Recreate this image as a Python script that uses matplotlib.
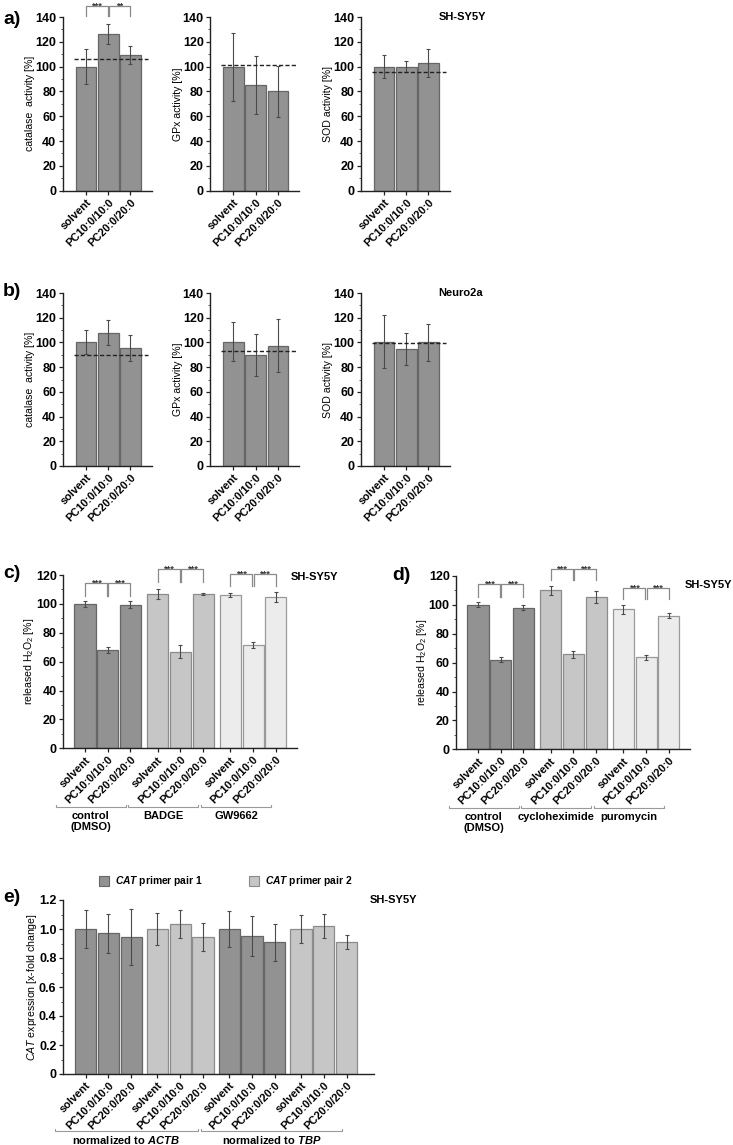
import numpy as np
import matplotlib
matplotlib.use("Agg")
import matplotlib.pyplot as plt
from matplotlib.patches import Rectangle

plt.rcParams["font.family"] = "Liberation Sans"
plt.rcParams["mathtext.fontset"] = "custom"
plt.rcParams["mathtext.rm"] = "Liberation Sans"
plt.rcParams["mathtext.it"] = "Liberation Sans:italic"
plt.rcParams["mathtext.bf"] = "Liberation Sans:italic:bold"

treatments = ["solvent", "PC10:0/10:0", "PC20:0/20:0"]

# a) SH-SY5Y enzyme activities [%] (mean, sd, dashed reference)
cat_a = [100, 126, 109.5]
cat_a_sd = [14, 8, 7]
cat_a_ref = 106
gpx_a = [100, 85, 80]
gpx_a_sd = [27.5, 23.5, 20.5]
gpx_a_ref = 101
sod_a = [100, 100, 103]
sod_a_sd = [9.5, 4.5, 11.5]
sod_a_ref = 96
sig_a = [(0, 1, "***"), (1, 2, "**")]

# b) Neuro2a
cat_b = [100.5, 108, 95.5]
cat_b_sd = [9.5, 10, 10.2]
cat_b_ref = 90
gpx_b = [100.5, 90, 97.5]
gpx_b_sd = [15.7, 17, 21.3]
gpx_b_ref = 93
sod_b = [100.5, 95, 100]
sod_b_sd = [21.5, 13, 14.7]
sod_b_ref = 99.5

# c) released H2O2, inhibitors
groups_c = ["control\n(DMSO)", "BADGE", "GW9662"]
h2o2_c = [100, 68, 99.5, 107, 67, 107, 106.4, 71.5, 105]
h2o2_c_sd = [2, 2, 2.3, 3.5, 4.5, 0.8, 1.4, 1.9, 3.5]
sig_c = [(114.2, 105.7), (124.2, 115.4), (120.7, 112.4)]

# d) released H2O2, translation inhibitors
groups_d = ["control\n(DMSO)", "cycloheximide", "puromycin"]
h2o2_d = [100, 62, 98, 110, 65.7, 105.5, 97, 63.8, 92.5]
h2o2_d_sd = [1.7, 1.7, 1.7, 3, 2.4, 4, 3, 1.8, 1.6]
sig_d = [(114.2, 105.7), (124.8, 117.2), (111.5, 104)]

# e) CAT expression
groups_e = ["normalized to $\\mathbf{ACTB}$", "normalized to $\\mathbf{TBP}$"]
primers = ["$\\mathbf{CAT}$ primer pair 1", "$\\mathbf{CAT}$ primer pair 2"]
cat_e = [1.0, 0.97, 0.945, 1.0, 1.035, 0.945, 1.0, 0.952, 0.907, 1.0, 1.02, 0.912]
cat_e_sd = [0.133, 0.135, 0.19, 0.11, 0.095, 0.097, 0.127, 0.14, 0.125, 0.097, 0.085, 0.048]

DARK, DARK_E = "#929292", "#666666"
MID, MID_E = "#c6c6c6", "#8c8c8c"
LIGHT, LIGHT_E = "#ececec", "#9a9a9a"

W, H = 733, 1145
fig = plt.figure(figsize=(W / 100, H / 100), dpi=100)


def add_ax(l, t, r, b):
    return fig.add_axes([l / W, 1 - b / H, (r - l) / W, (b - t) / H])


def style(ax, yticks, ylabels, ylabel, xpos, xlabels, minor):
    for s in ["top", "right"]:
        ax.spines[s].set_visible(False)
    for s in ["left", "bottom"]:
        ax.spines[s].set_linewidth(1.0)
        ax.spines[s].set_color("#222222")
    ax.set_ylim(yticks[0], yticks[-1])
    ax.set_yticks(yticks)
    ax.set_yticklabels(ylabels, fontweight="bold", fontsize=9)
    ax.set_yticks(minor, minor=True)
    ax.set_xticks(xpos)
    ax.set_xticklabels(xlabels, rotation=45, ha="right", va="top",
                       rotation_mode="anchor", fontweight="bold", fontsize=7.9)
    ax.tick_params(axis="y", which="major", length=3, width=0.9, pad=1.5, color="#222222")
    ax.tick_params(axis="y", which="minor", length=1.6, width=0.6, color="#444444")
    ax.tick_params(axis="x", length=3, width=0.9, pad=1.5, color="#222222")
    ax.set_ylabel(ylabel, fontsize=7.6, labelpad=0)


def bars(ax, x, vals, sds, colors, edges):
    ax.bar(x, vals, width=0.93, color=colors, edgecolor=edges, linewidth=0.9, zorder=2)
    ax.errorbar(x, vals, yerr=sds, fmt="none", ecolor="#4a4a4a", elinewidth=0.8,
                capsize=1.6, capthick=0.8, zorder=3)


def bracket(ax, x1, x2, y, ybot, label):
    ax.plot([x1, x1, x2, x2], [ybot, y, y, ybot], color="#8a8a8a", lw=0.9,
            clip_on=False, zorder=4)
    ax.text((x1 + x2) / 2, y, label, ha="center", va="center", fontsize=6.8,
            fontweight="bold", color="#333333", clip_on=False)


def group_labels(ax, starts, ends, names, ybr, ytxt, va="top"):
    tr = ax.get_xaxis_transform()
    for s, e, n in zip(starts, ends, names):
        ax.plot([s, s, e, e], [ybr + 0.012, ybr, ybr, ybr + 0.012], color="#9a9a9a",
                lw=0.8, transform=tr, clip_on=False)
        ax.text((s + e) / 2, ytxt, n, transform=tr, ha="center", va=va,
                fontsize=8, fontweight="bold", linespacing=1.1)


# ---------- panels a and b ----------
x3 = np.arange(3)
yt140 = np.arange(0, 141, 20)
small = [
    (17, 190.7, [(cat_a, cat_a_sd, cat_a_ref, "catalase  activity [%]"),
                 (gpx_a, gpx_a_sd, gpx_a_ref, "GPx activity [%]"),
                 (sod_a, sod_a_sd, sod_a_ref, "SOD activity [%]")]),
    (293, 466, [(cat_b, cat_b_sd, cat_b_ref, "catalase  activity [%]"),
                (gpx_b, gpx_b_sd, gpx_b_ref, "GPx activity [%]"),
                (sod_b, sod_b_sd, sod_b_ref, "SOD activity [%]")]),
]
lefts = [62.6, 210, 360.6]
axes_a = []
for top, bot, sets in small:
    for left, (vals, sds, ref, lab) in zip(lefts, sets):
        ax = add_ax(left, top, left + 89, bot)
        bars(ax, x3, vals, sds, DARK, DARK_E)
        ax.plot([-0.55, 2.8], [ref, ref], color="#222222", lw=1.0,
                ls=(0, (3, 1.6)), zorder=5)
        ax.set_xlim(-1.05, 2.95)
        style(ax, yt140, [str(v) for v in yt140], lab, x3, treatments,
              np.arange(0, 141, 10))
        axes_a.append(ax)

for x1, x2, lab in sig_a:
    d = 0.03
    bracket(axes_a[0], x1 + (d if x1 > 0 else 0), x2 - (d if x2 < 2 else 0),
            149, 141, lab)

# ---------- panels c and d ----------
pos9 = np.concatenate([np.arange(3) + 3.2 * g for g in range(3)])
cols9 = [DARK] * 3 + [MID] * 3 + [LIGHT] * 3
edges9 = [DARK_E] * 3 + [MID_E] * 3 + [LIGHT_E] * 3
yt120 = np.arange(0, 121, 20)
h2o2_label = "released H$_\\mathregular{2}$O$_\\mathregular{2}$ [%]"

for left, top, bot, vals, sds, sig, groups in [
    (63, 575, 748.3, h2o2_c, h2o2_c_sd, sig_c, groups_c),
    (456, 576, 749.3, h2o2_d, h2o2_d_sd, sig_d, groups_d),
]:
    ax = add_ax(left, top, left + 234, bot)
    bars(ax, pos9, vals, sds, cols9, edges9)
    ax.set_xlim(-0.97, 9.33)
    style(ax, yt120, [str(v) for v in yt120], h2o2_label, pos9, treatments * 3,
          np.arange(0, 121, 10))
    for g, (y, yb) in enumerate(sig):
        p = pos9[3 * g:3 * g + 3]
        bracket(ax, p[0], p[1] - 0.03, y, yb, "***")
        bracket(ax, p[1] + 0.03, p[2], y, yb, "***")
    starts = [pos9[3 * g] - 1.29 for g in range(3)]
    ends = [pos9[3 * g + 2] - 0.21 for g in range(3)]
    group_labels(ax, starts, ends, groups, -0.337, -0.362)

# ---------- panel e ----------
pos12 = np.concatenate([np.arange(3) + 3.15 * g for g in range(4)])
cols12 = ([DARK] * 3 + [MID] * 3) * 2
edges12 = ([DARK_E] * 3 + [MID_E] * 3) * 2
ax = add_ax(62.7, 900, 374, 1074)
bars(ax, pos12, cat_e, cat_e_sd, cols12, edges12)
ax.set_xlim(-1.0, 12.65)
yte = np.round(np.arange(0, 1.21, 0.2), 1)
style(ax, yte, ["0"] + [f"{v:.1f}" for v in yte[1:]],
      "$\\mathit{CAT}$ expression [x-fold change]", pos12, treatments * 4,
      np.arange(0, 1.21, 0.1))
group_labels(ax, [pos12[0] - 1.35, pos12[6] - 1.25], [pos12[5] - 0.22, pos12[11] - 0.2],
             groups_e, -0.328, -0.378, va="center")

# legend of panel e
for (x0, c, ec), lab in zip([(99, DARK, DARK_E), (249, MID, MID_E)], primers):
    fig.add_artist(Rectangle((x0 / W, 1 - 885.7 / H), 9.7 / W, 9.7 / H,
                             transform=fig.transFigure, facecolor=c, edgecolor=ec, lw=0.8))
    fig.text((x0 + 16) / W, 1 - 881 / H, lab, fontsize=7.4, fontweight="bold",
             ha="left", va="center")

# panel letters and cell lines
for lab, x, y in [("a)", 3, 20), ("b)", 3, 291), ("c)", 3, 574), ("d)", 392, 576), ("e)", 3, 897)]:
    fig.text(x / W, 1 - y / H, lab, fontsize=14, fontweight="bold", ha="left", va="center")
for lab, x, y in [("SH-SY5Y", 486, 17), ("Neuro2a", 483, 293), ("SH-SY5Y", 338, 576.5),
                  ("SH-SY5Y", 732, 585), ("SH-SY5Y", 417, 900)]:
    fig.text(x / W, 1 - y / H, lab, fontsize=8, fontweight="bold", ha="right", va="center")

fig.savefig("out.png", dpi=100)
